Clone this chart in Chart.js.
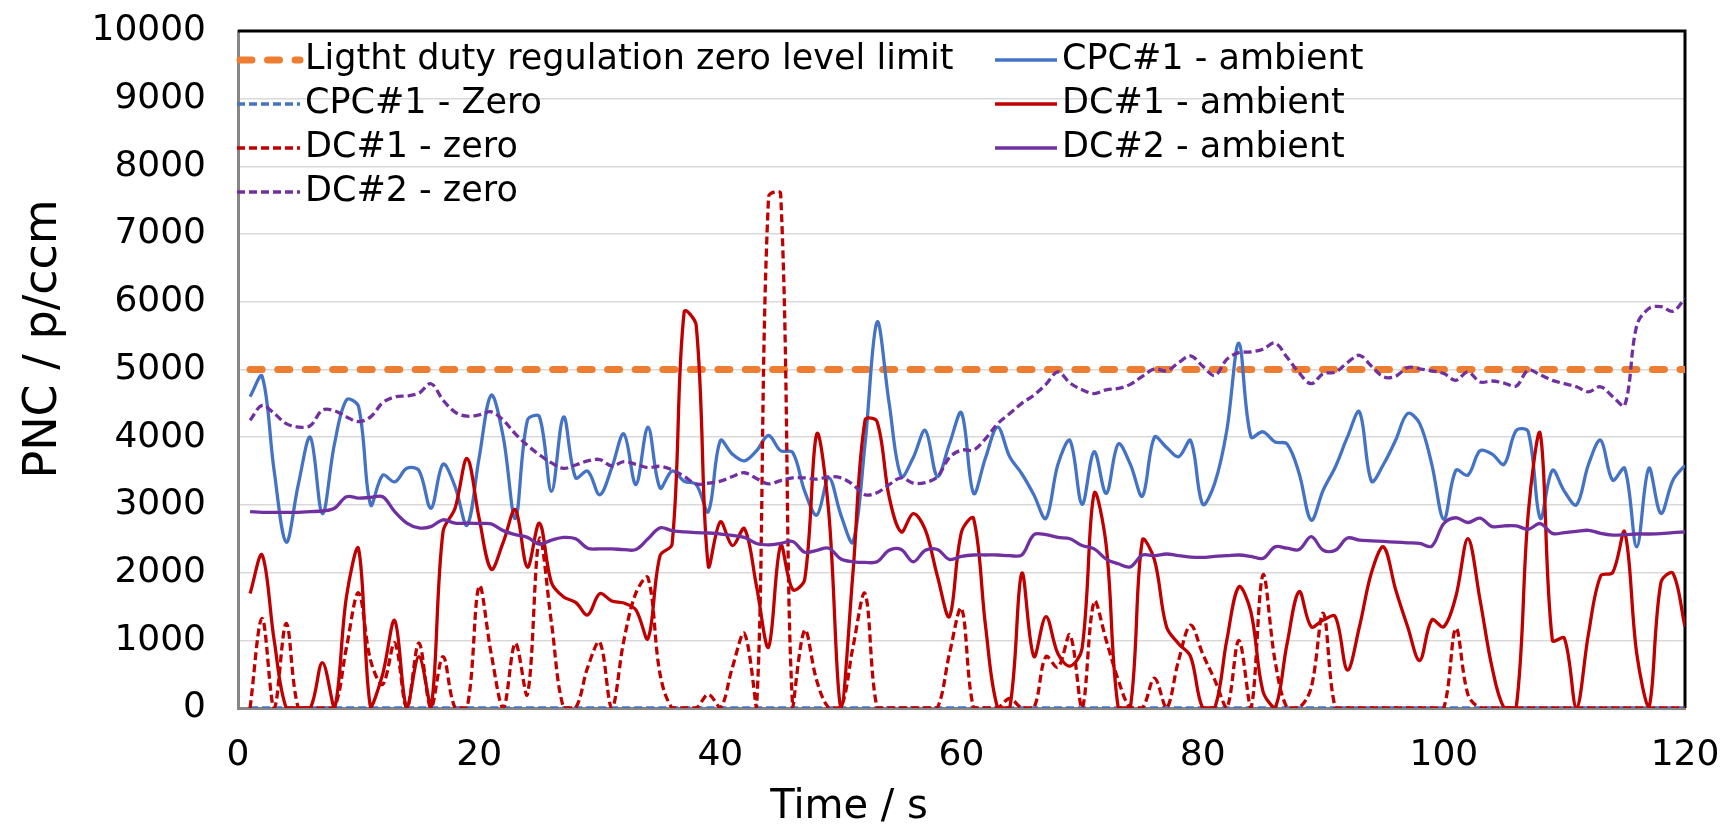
<!DOCTYPE html>
<html>
<head>
<meta charset="utf-8">
<title>PNC over time</title>
<script src="https://cdn.jsdelivr.net/npm/chart.js@4.4.0/dist/chart.umd.min.js"></script>
<style>
  html, body { margin: 0; padding: 0; background: #fff; }
  canvas { display: block; }
</style>
</head>
<body>
<canvas id="chart" width="1722" height="825"></canvas>
<script>
// time base, one sample per second
const timeS = [
    1, 2, 3, 4, 5, 6, 7, 8, 9, 10, 11, 12, 13, 14, 15, 16, 17, 18, 19, 20,
    21, 22, 23, 24, 25, 26, 27, 28, 29, 30, 31, 32, 33, 34, 35, 36, 37, 38, 39, 40,
    41, 42, 43, 44, 45, 46, 47, 48, 49, 50, 51, 52, 53, 54, 55, 56, 57, 58, 59, 60,
    61, 62, 63, 64, 65, 66, 67, 68, 69, 70, 71, 72, 73, 74, 75, 76, 77, 78, 79, 80,
    81, 82, 83, 84, 85, 86, 87, 88, 89, 90, 91, 92, 93, 94, 95, 96, 97, 98, 99, 100,
    101, 102, 103, 104, 105, 106, 107, 108, 109, 110, 111, 112, 113, 114, 115, 116, 117, 118, 119, 120
];

// regulation limit and the CPC zero run are flat lines across the whole test
const limitTime = [1, 120];
const limitValue = [5000, 5000];
const cpc1ZeroTime = [1, 120];
const cpc1Zero = [0, 0];

const cpc1Ambient = [
    4600, 4900, 3500, 2450, 3300, 4000, 2870, 3900, 4550, 4450, 3000, 3440, 3340, 3540, 3510, 2950, 3600, 3270, 2700, 3700,
    4620, 4000, 2800, 4250, 4300, 3200, 4300, 3400, 3500, 3150, 3550, 4050, 3300, 4150, 3250, 3500, 3350, 3300, 2900, 3950,
    3750, 3650, 3800, 4025, 3800, 3775, 3200, 2850, 3400, 2850, 2450, 3900, 5700, 4500, 3420, 3700, 4100, 3420, 3900, 4360,
    3170, 3700, 4150, 3710, 3460, 3150, 2800, 3600, 3950, 3010, 3785, 3170, 3900, 3600, 3130, 4000, 3850, 3710, 3950, 3010,
    3320, 4100, 5390, 4005, 4080, 3930, 3900, 3465, 2775, 3220, 3560, 4000, 4375, 3350, 3600, 3955, 4350, 4200, 3600, 2785,
    3510, 3440, 3800, 3750, 3600, 4100, 4080, 2800, 3510, 3200, 3000, 3600, 3955, 3365, 3540, 2380, 3540, 2875, 3365, 3585
];

const dc1Ambient = [
    1690, 2260, 1000, 0, 0, 0, 670, 0, 1650, 2350, 0, 500, 1290, 0, 760, 0, 2600, 2950, 3685, 2800,
    2050, 2450, 2930, 2080, 2730, 1850, 1640, 1560, 1375, 1690, 1580, 1550, 1450, 1025, 2250, 2420, 5850, 5650, 2100, 2750,
    2400, 2650, 1800, 900, 2400, 1750, 1900, 4050, 2875, 0, 2000, 4250, 4230, 3120, 2600, 2870, 2630, 1950, 1350, 2600,
    2800, 1200, 0, 0, 1990, 760, 1350, 800, 620, 880, 3170, 2400, 0, 0, 2480, 2190, 1200, 950, 760, 0,
    0, 1000, 1790, 1420, 245, 0, 950, 1720, 1200, 1300, 1350, 560, 1200, 2000, 2380, 1750, 1200, 700, 1300, 1200,
    1650, 2500, 1600, 600, 0, 0, 2875, 4050, 1000, 1030, 0, 1100, 1950, 2000, 2600, 800, 0, 1850, 1990, 1200
];

const dc1Zero = [
    0, 1325, 0, 1250, 0, 0, 0, 0, 900, 1700, 700, 350, 960, 0, 960, 0, 760, 0, 0, 1800,
    800, 0, 960, 200, 2500, 1250, 0, 0, 600, 975, 0, 1000, 1700, 1925, 500, 0, 0, 0, 200, 0,
    600, 1100, 0, 7550, 7600, 0, 1150, 400, 0, 0, 900, 1690, 0, 0, 0, 0, 0, 0, 800, 1470,
    0, 0, 0, 140, 0, 0, 760, 600, 1080, 0, 1570, 1000, 415, 0, 0, 440, 0, 700, 1225, 800,
    415, 0, 1000, 0, 1965, 700, 0, 0, 300, 1400, 0, 0, 0, 0, 0, 0, 0, 0, 0, 0,
    1175, 200, 0, 0, 0, 0, 0, 0, 0, 0, 0, 0, 0, 0, 0, 0, 0, 0, 0, 0
];

const dc2Ambient = [
    2900, 2890, 2890, 2890, 2890, 2900, 2910, 2950, 3120, 3100, 3110, 3120, 2900, 2730, 2660, 2680, 2780, 2730, 2730, 2725,
    2720, 2620, 2560, 2520, 2420, 2480, 2520, 2500, 2360, 2350, 2350, 2340, 2340, 2500, 2660, 2620, 2600, 2590, 2585, 2570,
    2550, 2520, 2430, 2410, 2430, 2460, 2300, 2330, 2360, 2200, 2160, 2150, 2160, 2330, 2340, 2160, 2330, 2340, 2195, 2240,
    2260, 2260, 2260, 2250, 2260, 2560, 2560, 2520, 2500, 2400, 2350, 2200, 2130, 2085, 2260, 2250, 2275, 2250, 2230, 2225,
    2240, 2250, 2260, 2240, 2210, 2380, 2360, 2340, 2530, 2330, 2330, 2510, 2480, 2470, 2460, 2450, 2440, 2430, 2390, 2725,
    2810, 2740, 2805, 2680, 2690, 2690, 2640, 2725, 2580, 2590, 2610, 2625, 2580, 2555, 2560, 2570, 2570, 2575, 2590, 2600
];

const dc2Zero = [
    4250, 4470, 4350, 4200, 4150, 4170, 4400, 4390, 4300, 4230, 4300, 4510, 4595, 4610, 4650, 4790, 4550, 4370, 4310, 4330,
    4375, 4250, 4050, 3880, 3740, 3620, 3540, 3590, 3650, 3670, 3575, 3640, 3600, 3550, 3570, 3520, 3420, 3310, 3320, 3350,
    3420, 3475, 3390, 3310, 3360, 3400, 3400, 3380, 3415, 3400, 3300, 3150, 3180, 3300, 3400, 3320, 3330, 3415, 3700, 3810,
    3810, 3980, 4200, 4350, 4500, 4620, 4780, 4965, 4800, 4700, 4645, 4700, 4720, 4780, 4900, 5010, 4980, 5100, 5200, 5050,
    4910, 5150, 5250, 5260, 5300, 5390, 5180, 4950, 4790, 4940, 4960, 5100, 5210, 5050, 4890, 4900, 5030, 5010, 4980, 4940,
    4840, 4965, 4815, 4830, 4800, 4755, 4990, 4920, 4840, 4790, 4745, 4670, 4745, 4600, 4470, 5650, 5900, 5930, 5860, 6050
];

const seriesNames = [
    'Ligtht duty regulation zero level limit',
    'CPC#1 - ambient',
    'CPC#1 - Zero',
    'DC#1 - ambient',
    'DC#1 - zero',
    'DC#2 - ambient',
    'DC#2 - zero'
];

const yTicks = { min: 0, max: 10000, step: 1000 };
const xTicks = { min: 0, max: 120, step: 20 };
const xTitle = 'Time / s';
const yTitle = 'PNC / p/ccm';

const FONT = '"DejaVu Sans", sans-serif';

function toPoints(xs, ys) {
    return ys.map((y, i) => ({ x: xs[i], y: y }));
}

function lineSet(index, xs, ys, color, width, dash) {
    return {
        label: seriesNames[index],
        data: toPoints(xs, ys),
        borderColor: color,
        backgroundColor: color,
        borderWidth: width,
        borderDash: dash || [],
        pointRadius: 0,
        tension: 0.35,
        fill: false,
        // Excel puts later series on top
        order: seriesNames.length - index
    };
}

const datasets = [
    lineSet(0, limitTime, limitValue, '#ED7D31', 7, [12, 15.5]),
    lineSet(1, timeS, cpc1Ambient, '#4472C4', 3.3),
    lineSet(2, cpc1ZeroTime, cpc1Zero, '#4472C4', 3.3, [8, 4]),
    lineSet(3, timeS, dc1Ambient, '#C00000', 3.3),
    lineSet(4, timeS, dc1Zero, '#C00000', 3.3, [8, 4]),
    lineSet(5, timeS, dc2Ambient, '#7030A0', 3.3),
    lineSet(6, timeS, dc2Zero, '#7030A0', 3.3, [8, 4])
];
datasets[0].borderCapStyle = 'round';

// legend sits inside the plot, two columns filled row by row
const legendRows = [60, 104, 148, 192];
const legendCols = [
    { from: 237, to: 300, text: 305 },
    { from: 995, to: 1057, text: 1062 }
];

const insideLegend = {
    id: 'insideLegend',
    afterDatasetsDraw(chart) {
        const ctx = chart.ctx;
        ctx.save();
        ctx.font = '35px ' + FONT;
        ctx.textBaseline = 'middle';
        chart.data.datasets.forEach((ds, i) => {
            const col = legendCols[i % 2];
            const y = legendRows[Math.floor(i / 2)];
            ctx.beginPath();
            ctx.setLineDash(ds.borderDash || []);
            ctx.lineCap = ds.borderCapStyle || 'butt';
            ctx.lineWidth = ds.borderWidth;
            ctx.strokeStyle = ds.borderColor;
            ctx.moveTo(col.from + (ds.borderCapStyle === 'round' ? 3 : 0), y);
            ctx.lineTo(col.to, y);
            ctx.stroke();
            ctx.setLineDash([]);
            ctx.fillStyle = '#000';
            ctx.fillText(ds.label, col.text, y);
        });
        ctx.restore();
    }
};

// black frame on top/right, plus both axis titles placed like the original
const frameAndTitles = {
    id: 'frameAndTitles',
    beforeDatasetsDraw(chart) {
        const { ctx, chartArea } = chart;
        ctx.save();
        ctx.strokeStyle = '#000';
        ctx.lineWidth = 3;
        ctx.beginPath();
        ctx.moveTo(chartArea.left, chartArea.top);
        ctx.lineTo(chartArea.right, chartArea.top);
        ctx.lineTo(chartArea.right, chartArea.bottom);
        ctx.stroke();
        ctx.restore();
    },
    afterDraw(chart) {
        const ctx = chart.ctx;
        ctx.save();
        ctx.fillStyle = '#000';
        ctx.textAlign = 'center';
        ctx.textBaseline = 'alphabetic';
        ctx.font = '40px ' + FONT;
        ctx.fillText(xTitle, 849, 818);
        ctx.translate(56, 339);
        ctx.rotate(-Math.PI / 2);
        ctx.font = '46px ' + FONT;
        ctx.fillText(yTitle, 0, 0);
        ctx.restore();
    }
};

const ctx = document.getElementById('chart').getContext('2d');
const chart = new Chart(ctx, {
    type: 'line',
    data: { datasets: datasets },
    options: {
        responsive: false,
        animation: false,
        events: [],
        layout: { padding: { top: 31, right: 37, bottom: 0, left: 0 } },
        plugins: {
            legend: { display: false },
            tooltip: { enabled: false }
        },
        scales: {
            x: {
                type: 'linear',
                min: xTicks.min,
                max: xTicks.max,
                ticks: {
                    stepSize: xTicks.step,
                    color: '#000',
                    font: { family: FONT, size: 36 },
                    padding: 26,
                    maxRotation: 0,
                    callback: (v) => String(v)
                },
                grid: { display: false, drawTicks: false },
                border: { display: true, color: '#868686', width: 3 },
                afterFit(scale) {
                    scale.height = 117;
                    scale.paddingLeft = 0;
                    scale.paddingRight = 0;
                }
            },
            y: {
                min: yTicks.min,
                max: yTicks.max,
                ticks: {
                    stepSize: yTicks.step,
                    color: '#000',
                    font: { family: FONT, size: 36 },
                    padding: 32,
                    callback: (v) => String(v)
                },
                grid: { color: '#D9D9D9', lineWidth: 1.5, drawTicks: false },
                border: { display: true, color: '#868686', width: 3 },
                afterFit(scale) {
                    scale.width = 238;
                    scale.paddingTop = 0;
                    scale.paddingBottom = 0;
                }
            }
        }
    },
    plugins: [insideLegend, frameAndTitles]
});
</script>
</body>
</html>
